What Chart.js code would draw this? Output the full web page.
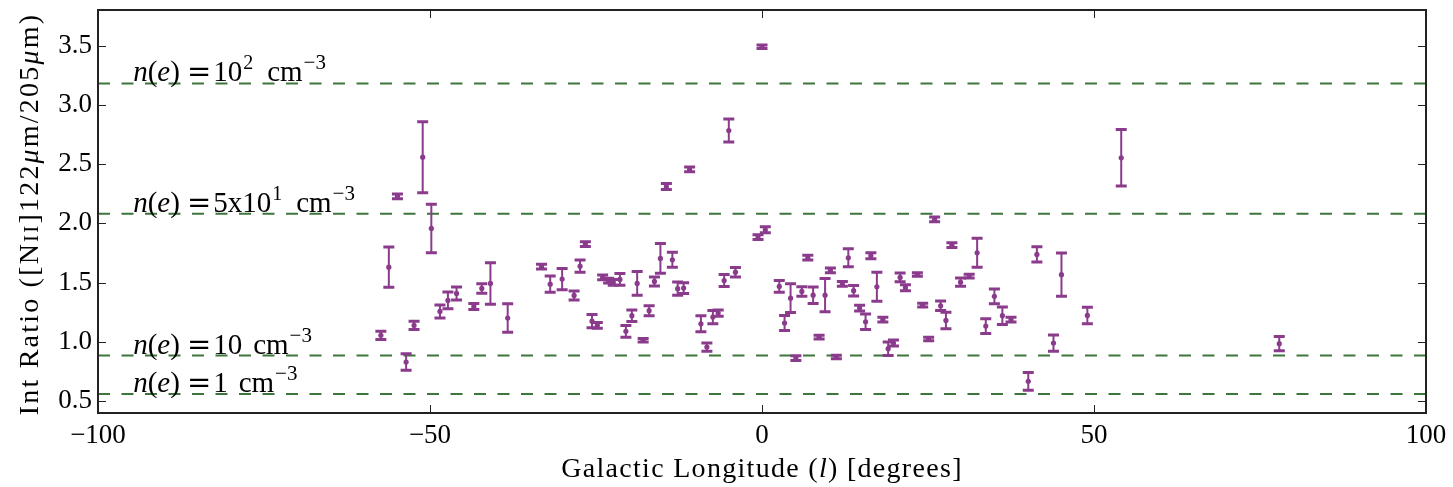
<!DOCTYPE html>
<html>
<head>
<meta charset="utf-8">
<script src="https://cdn.jsdelivr.net/npm/chart.js@4.4.0/dist/chart.umd.min.js"></script>
<style>
html, body { margin: 0; padding: 0; background: #fff; }
canvas { display: block; }
</style>
</head>
<body>
<canvas id="grafica" width="1453" height="487"></canvas>
<script>
// ================= DATOS =================

const longitud = [
    -57.4, -56.2, -54.9, -53.6, -52.4, -51.1, -49.8, -48.5, -47.3, -46.0,
    -43.4, -42.2, -40.9, -38.3, -33.2, -31.9, -30.1, -28.3, -27.4, -26.6,
    -25.6, -24.8, -24.0, -23.1, -22.4, -21.4, -20.5, -19.6, -18.8, -17.9,
    -17.0, -16.2, -15.3, -14.4, -13.5, -12.7, -11.8, -10.9, -9.2, -8.3,
    -7.4, -6.6, -5.7, -5.0, -4.0, -0.6, 0.0, 0.5, 2.6, 3.4,
    4.3, 5.1, 6.0, 6.9, 7.7, 8.6, 9.5, 10.3, 11.2, 12.1,
    13.0, 13.8, 14.7, 15.6, 16.4, 17.3, 18.2, 19.0, 19.8, 20.8,
    21.6, 23.4, 24.2, 25.1, 26.0, 26.9, 27.7, 28.6, 29.9, 31.2,
    32.4, 33.7, 35.0, 36.2, 37.5, 40.1, 41.4, 43.9, 45.1, 49.0,
    54.1, 77.9
];

const ratio = [
    1.055, 1.63, 2.227, 0.83, 1.139, 2.558, 1.957, 1.257, 1.35, 1.409,
    1.299, 1.451, 1.493, 1.201, 1.634, 1.487, 1.53, 1.392, 1.639, 1.825,
    1.175, 1.139, 1.544, 1.516, 1.502, 1.527, 1.089, 1.221, 1.493, 1.013,
    1.263, 1.51, 1.704, 2.311, 1.693, 1.449, 1.454, 2.455, 1.153, 0.956,
    1.209, 1.243, 1.518, 2.783, 1.588, 1.884, 3.49, 1.946, 1.468, 1.159,
    1.369, 0.863, 1.426, 1.71, 1.394, 1.04, 1.394, 1.603, 0.872, 1.49,
    1.71, 1.432, 1.285, 1.17, 1.727, 1.465, 1.187, 0.943, 0.99, 1.544,
    1.457, 1.569, 1.31, 1.024, 2.033, 1.305, 1.181, 1.816, 1.504, 1.555,
    1.752, 1.133, 1.384, 1.221, 1.187, 0.667, 1.738, 0.99, 1.567, 1.223,
    2.553, 0.985
];

const errorRatio = [
    0.035, 0.17, 0.02, 0.07, 0.035, 0.30, 0.205, 0.055, 0.07, 0.055,
    0.025, 0.04, 0.175, 0.12, 0.02, 0.068, 0.09, 0.038, 0.052, 0.02,
    0.055, 0.025, 0.02, 0.02, 0.025, 0.05, 0.05, 0.048, 0.10, 0.015,
    0.042, 0.038, 0.125, 0.025, 0.063, 0.056, 0.045, 0.02, 0.068, 0.035,
    0.056, 0.027, 0.05, 0.097, 0.04, 0.02, 0.015, 0.025, 0.05, 0.063,
    0.122, 0.02, 0.04, 0.02, 0.07, 0.015, 0.14, 0.02, 0.015, 0.02,
    0.076, 0.044, 0.025, 0.066, 0.025, 0.122, 0.02, 0.057, 0.025, 0.037,
    0.025, 0.015, 0.015, 0.015, 0.02, 0.04, 0.07, 0.02, 0.034, 0.015,
    0.122, 0.063, 0.063, 0.074, 0.02, 0.075, 0.065, 0.068, 0.183, 0.07,
    0.238, 0.06
];

const nivelesDensidad = [3.18, 2.08, 0.885, 0.56];
const densidadTexto = ["10", "5x10", "10", "1"];
const densidadExponente = ["2", "1", "", ""];
const etiquetaX = -94.7;

const ticksX = [-100, -50, 0, 50, 100];
const ticksY = [0.5, 1.0, 1.5, 2.0, 2.5, 3.0, 3.5];

// ================= ESTILO =================

const morado = "#8a3b8c";
const verde = "#3c763a";
const fuente = "'Liberation Serif', 'Times New Roman', serif";

// trozos de texto con distinta fuente, desplazamiento (dx) y subida (dy)
function anchoTrozos(ctx, trozos)
{
    let w = 0;
    trozos.forEach(t => {
        ctx.font = t.f;
        w += (t.dx || 0) + ctx.measureText(t.t).width;
    });
    return w;
}

function dibujaTrozos(ctx, trozos, x, y)
{
    trozos.forEach(t => {
        ctx.font = t.f;
        x += t.dx || 0;
        ctx.fillText(t.t, x, y - (t.dy || 0));
        x += ctx.measureText(t.t).width;
    });
}

const normal = s => s + "px " + fuente;
const italica = s => "italic " + s + "px " + fuente;

// ================= PLUGIN: barras de error, marco, textos =================

const pluginExtras = {
    id: "extras",

    afterDatasetsDraw(chart)
    {
        const ctx = chart.ctx;
        const sx = chart.scales.x;
        const sy = chart.scales.y;
        const area = chart.chartArea;

        // barras de error
        ctx.save();
        ctx.strokeStyle = morado;
        longitud.forEach((l, i) => {
            const px = sx.getPixelForValue(l);
            const y1 = sy.getPixelForValue(ratio[i] - errorRatio[i]);
            const y2 = sy.getPixelForValue(ratio[i] + errorRatio[i]);

            ctx.lineWidth = 2;
            ctx.beginPath();
            ctx.moveTo(px, y1);
            ctx.lineTo(px, y2);
            ctx.stroke();

            ctx.lineWidth = 3;
            ctx.beginPath();
            ctx.moveTo(px - 5.5, y1);
            ctx.lineTo(px + 5.5, y1);
            ctx.moveTo(px - 5.5, y2);
            ctx.lineTo(px + 5.5, y2);
            ctx.stroke();
        });
        ctx.restore();

        // etiquetas de densidad
        ctx.save();
        ctx.fillStyle = "#000";
        ctx.textBaseline = "alphabetic";
        ctx.textAlign = "left";
        nivelesDensidad.forEach((n, i) => {
            const trozos = [
                { t: "n", f: italica(29) },
                { t: "(", f: normal(29) },
                { t: "e", f: italica(29) },
                { t: ")", f: normal(29) },
                { t: "=", f: "29px 'DejaVu Serif'", dx: 7 },
                { t: densidadTexto[i], f: normal(29), dx: 2 }
            ];
            if(densidadExponente[i])
                trozos.push({ t: densidadExponente[i], f: normal(20), dx: 1, dy: 12 });
            trozos.push({ t: "cm", f: normal(29), dx: densidadExponente[i] ? 14 : 11 });
            trozos.push({ t: "\u22123", f: normal(21), dx: 1, dy: 12 });

            dibujaTrozos(ctx, trozos,
                sx.getPixelForValue(etiquetaX),
                sy.getPixelForValue(n) - 2);
        });
        ctx.restore();

        // marco y ticks hacia dentro
        ctx.save();
        ctx.strokeStyle = "#222";
        ctx.lineWidth = 1;
        ticksX.forEach(v => {
            const px = Math.round(sx.getPixelForValue(v)) + 0.5;
            ctx.beginPath();
            ctx.moveTo(px, area.bottom);
            ctx.lineTo(px, area.bottom - 8);
            ctx.moveTo(px, area.top);
            ctx.lineTo(px, area.top + 8);
            ctx.stroke();
        });
        ticksY.forEach(v => {
            const py = Math.round(sy.getPixelForValue(v)) + 0.5;
            ctx.beginPath();
            ctx.moveTo(area.left, py);
            ctx.lineTo(area.left + 8, py);
            ctx.moveTo(area.right, py);
            ctx.lineTo(area.right - 8, py);
            ctx.stroke();
        });
        ctx.lineWidth = 2;
        ctx.strokeRect(area.left, area.top, area.right - area.left, area.bottom - area.top);
        ctx.restore();

        // titulos de ejes
        ctx.save();
        ctx.fillStyle = "#000";
        ctx.letterSpacing = "1.3px";
        const tituloX = [
            { t: "Galactic Longitude (", f: normal(28) },
            { t: "l", f: italica(28) },
            { t: ") [degrees]", f: normal(28) }
        ];
        const wx = anchoTrozos(ctx, tituloX);
        dibujaTrozos(ctx, tituloX, (area.left + area.right) / 2 - wx / 2, 477);

        ctx.letterSpacing = "2.2px";
        const tituloY = [
            { t: "Int Ratio ([N", f: normal(28) },
            { t: "II", f: normal(21) },
            { t: "]122", f: normal(28) },
            { t: "\u03bc", f: italica(28) },
            { t: "m/205", f: normal(28) },
            { t: "\u03bc", f: italica(28) },
            { t: "m)", f: normal(28) }
        ];
        const wy = anchoTrozos(ctx, tituloY);
        ctx.translate(38, 214);
        ctx.rotate(-Math.PI / 2);
        dibujaTrozos(ctx, tituloY, -wy / 2, 0);
        ctx.restore();
    }
};

// ================= GRAFICA =================

new Chart(document.getElementById("grafica"), {
    type: "scatter",
    data: {
        datasets: [
            ...nivelesDensidad.map(n => ({
                type: "line",
                data: [{ x: -100, y: n }, { x: 100, y: n }],
                borderColor: verde,
                borderWidth: 2,
                borderDash: [12, 11.5],
                pointRadius: 0,
                fill: false
            })),
            {
                data: longitud.map((l, i) => ({ x: l, y: ratio[i] })),
                pointRadius: 2.6,
                pointBackgroundColor: morado,
                pointBorderWidth: 0,
                showLine: false
            }
        ]
    },
    options: {
        responsive: false,
        animation: false,
        devicePixelRatio: 1,
        layout: { padding: { top: 10, right: 27, left: 0, bottom: 0 } },
        plugins: { legend: { display: false }, tooltip: { enabled: false } },
        scales: {
            x: {
                type: "linear",
                min: -100,
                max: 100,
                afterBuildTicks: s => { s.ticks = ticksX.map(v => ({ value: v })); },
                afterFit: s => { s.height = 74; s.paddingLeft = 0; s.paddingRight = 0; },
                grid: { drawOnChartArea: false, drawTicks: false },
                border: { display: false },
                ticks: {
                    color: "#000",
                    font: { family: fuente, size: 27 },
                    padding: 7,
                    maxRotation: 0,
                    autoSkip: false,
                    callback: v => String(v).replace("-", "\u2212")
                }
            },
            y: {
                type: "linear",
                min: 0.4,
                max: 3.8,
                afterBuildTicks: s => { s.ticks = ticksY.map(v => ({ value: v })); },
                afterFit: s => { s.width = 98; s.paddingTop = 0; s.paddingBottom = 0; },
                grid: { drawOnChartArea: false, drawTicks: false },
                border: { display: false },
                ticks: {
                    color: "#000",
                    font: { family: fuente, size: 27 },
                    padding: 6,
                    autoSkip: false,
                    callback: v => Number(v).toFixed(1)
                }
            }
        }
    },
    plugins: [pluginExtras]
});
</script>
</body>
</html>
